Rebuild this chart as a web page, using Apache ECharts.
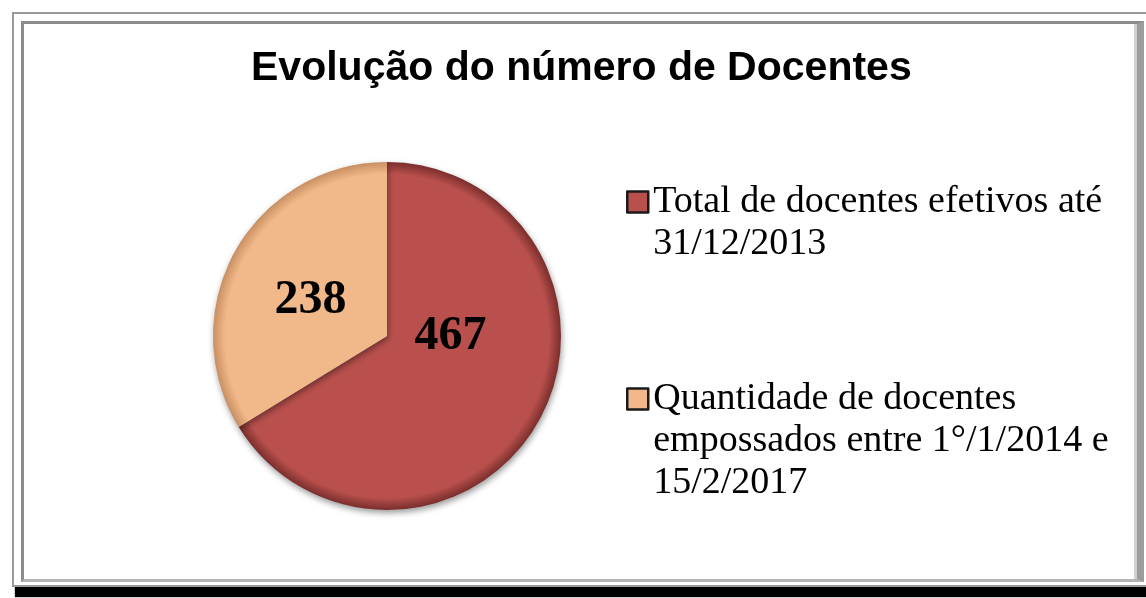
<!DOCTYPE html>
<html>
<head>
<meta charset="utf-8">
<script src="https://cdn.jsdelivr.net/npm/echarts@6/dist/echarts.min.js"></script>
<style>
  html, body { margin: 0; padding: 0; background: #fff; overflow: hidden; }
  #frame {
    position: absolute; left: 12px; top: 12px; width: 1140px; height: 571px;
    border: 2px solid #9a9a9a; background: #fff;
    box-shadow: 3px 10px 1px #000;
  }
  #inner {
    position: absolute; left: 7px; top: 7px; right: 10px; bottom: 3px;
    border-top: 3px solid #8c8c8c; border-left: 3px solid #8c8c8c;
    border-right: 7px solid #9c9c9c; border-bottom: 3px solid #b5b5b5;
    box-shadow: inset -3px 0 0 #d0d0d0;
  }
  #chart { position: absolute; left: 0; top: 0; width: 1146px; height: 598px; }
</style>
</head>
<body>
<div id="frame"><div id="inner"></div></div>
<div id="chart"></div>
<script>
// dados
const title = 'Evolução do número de Docentes'
const categories = [
  'Total de docentes efetivos até\n31/12/2013',
  'Quantidade de docentes\nempossados entre 1°/1/2014 e\n15/2/2017'
]
const values = [467, 238]
const colors = ['#b9504d', '#f1b98a']
const edgeColors = ['#7a2e2c', '#c98f62']

let myChart = echarts.init(document.getElementById('chart'))

// preenchimento com borda escura (efeito de bisel)
function fill(i) {
  return {
    type: 'radial', x: 387, y: 336, r: 174, global: true,
    colorStops: [
      { offset: 0, color: colors[i] },
      { offset: 0.93, color: colors[i] },
      { offset: 1, color: edgeColors[i] }
    ]
  }
}

// legenda: primeira linha alinhada com o ícone
function legendFor(i, top) {
  return {
    data: [categories[i]],
    left: 621,
    top: top,
    orient: 'vertical',
    icon: 'rect',
    itemWidth: 21,
    itemHeight: 21,
    itemStyle: { color: colors[i], borderColor: '#1a1a1a', borderWidth: 2.5 },
    formatter: function (name) {
      const n = name.split('\n').length
      return '\n'.repeat(n - 1) + name
    },
    textStyle: { fontFamily: 'Liberation Serif', fontSize: 38, lineHeight: 42, color: '#000' }
  }
}

let option = {
  title: {
    text: title,
    left: 251,
    top: 48,
    padding: 0,
    textStyle: {
      fontFamily: 'Liberation Sans',
      fontWeight: 'bold',
      fontSize: 41,
      color: '#000'
    }
  },
  legend: [legendFor(0, 134), legendFor(1, 289)],
  series: [
    {
      type: 'pie',
      center: [387, 336],
      radius: 174,
      startAngle: 90,
      clockwise: true,
      color: colors,
      silent: true,
      itemStyle: {
        shadowBlur: 6,
        shadowColor: 'rgba(0,0,0,0.4)',
        shadowOffsetX: 1,
        shadowOffsetY: 3
      },
      label: {
        show: true,
        position: 'inside',
        fontFamily: 'Liberation Serif',
        fontWeight: 'bold',
        fontSize: 48,
        color: '#000',
        formatter: '{c}'
      },
      labelLine: { show: false },
      data: [
        { name: categories[0], value: values[0], itemStyle: { color: fill(0) }, label: { offset: [-15, -43] } },
        { name: categories[1], value: values[1], itemStyle: { color: fill(1) }, label: { offset: [2, 9] } }
      ]
    }
  ]
}

myChart.setOption(option)
</script>
</body>
</html>
